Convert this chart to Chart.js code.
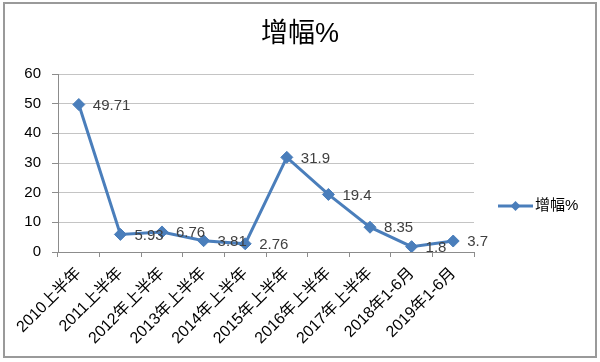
<!DOCTYPE html>
<html>
<head>
<meta charset="utf-8">
<script src="https://cdn.jsdelivr.net/npm/chart.js@4/dist/chart.umd.min.js"></script>
<style>
html,body{margin:0;padding:0;background:#fff;}
#wrap{width:600px;height:362px;position:relative;}
</style>
</head>
<body>
<div id="wrap"><canvas id="c" width="600" height="362"></canvas></div>
<script>
const chartTitle = "增幅%";
const seriesName = "增幅%";
const categories = ["2010上半年","2011上半年","2012年上半年","2013年上半年","2014年上半年","2015年上半年","2016年上半年","2017年上半年","2018年1-6月","2019年1-6月"];
const growthValues = [49.71, 5.93, 6.76, 3.81, 2.76, 31.9, 19.4, 8.35, 1.8, 3.7];
const yTicks = [0, 10, 20, 30, 40, 50, 60];

const FONT = '"Liberation Sans", "Noto Sans CJK SC", sans-serif';
const LINE_COLOR = '#4a7ebb';

const frame = {
  id: 'frame',
  beforeDraw(chart) {
    const ctx = chart.ctx;
    ctx.save();
    ctx.fillStyle = '#fff';
    ctx.fillRect(0, 0, chart.width, chart.height);
    ctx.strokeStyle = '#9a9a9a';
    ctx.lineWidth = 2;
    ctx.strokeRect(4, 3, 592, 354);
    ctx.restore();
  },
  afterDraw(chart) {
    const ctx = chart.ctx;
    ctx.save();
    ctx.font = '27px ' + FONT;
    ctx.fillStyle = '#000';
    ctx.textAlign = 'center';
    ctx.textBaseline = 'middle';
    ctx.fillText(chartTitle, chart.width / 2, 35);
    ctx.restore();
  }
};

const pointLabels = {
  id: 'pointLabels',
  afterDatasetsDraw(chart) {
    const ctx = chart.ctx;
    const meta = chart.getDatasetMeta(0);
    const data = chart.data.datasets[0].data;
    ctx.save();
    ctx.font = '15px ' + FONT;
    ctx.fillStyle = '#404040';
    ctx.textAlign = 'left';
    ctx.textBaseline = 'middle';
    meta.data.forEach((pt, i) => {
      ctx.fillText(String(data[i]), pt.x + 14, pt.y + 1);
    });
    ctx.restore();
  }
};

const sideLegend = {
  id: 'sideLegend',
  afterDraw(chart) {
    const ctx = chart.ctx;
    const ca = chart.chartArea;
    const x0 = ca.right + 24, x1 = x0 + 35, y = 206;
    ctx.save();
    ctx.strokeStyle = LINE_COLOR;
    ctx.lineWidth = 3;
    ctx.beginPath();
    ctx.moveTo(x0, y);
    ctx.lineTo(x1, y);
    ctx.stroke();
    const cx = (x0 + x1) / 2, r = 5;
    ctx.fillStyle = LINE_COLOR;
    ctx.beginPath();
    ctx.moveTo(cx, y - r); ctx.lineTo(cx + r, y); ctx.lineTo(cx, y + r); ctx.lineTo(cx - r, y);
    ctx.closePath();
    ctx.fill();
    ctx.font = '15px ' + FONT;
    ctx.fillStyle = '#000';
    ctx.textAlign = 'left';
    ctx.textBaseline = 'middle';
    ctx.fillText(seriesName, x1 + 2, y);
    ctx.restore();
  }
};

new Chart(document.getElementById('c'), {
  type: 'line',
  data: {
    labels: categories,
    datasets: [{
      label: seriesName,
      data: growthValues,
      borderColor: LINE_COLOR,
      backgroundColor: LINE_COLOR,
      borderWidth: 3,
      pointStyle: 'rectRot',
      pointRadius: 6,
      pointBackgroundColor: LINE_COLOR,
      pointBorderColor: LINE_COLOR,
      pointBorderWidth: 1,
      tension: 0,
      fill: false
    }]
  },
  options: {
    responsive: false,
    animation: false,
    devicePixelRatio: 1,
    layout: { padding: { left: 0, right: 126, top: 74, bottom: 5 } },
    plugins: {
      legend: { display: false },
      tooltip: { enabled: false },
      title: { display: false }
    },
    scales: {
      x: {
        type: 'category',
        offset: true,
        grid: { display: true, drawOnChartArea: false, drawTicks: true, tickLength: 5, color: '#8c8c8c', offset: true },
        border: { display: true, color: '#8c8c8c', width: 1 },
        ticks: {
          autoSkip: false,
          minRotation: 45,
          maxRotation: 45,
          padding: 7,
          color: '#000',
          font: { family: FONT, size: 16 }
        },
        afterFit(scale) { scale.height = 105; }
      },
      y: {
        min: 0,
        max: 60,
        afterBuildTicks(scale) { scale.ticks = yTicks.map(v => ({ value: v })); },
        grid: { color: '#c4c4c4', tickLength: 6, drawTicks: true, tickColor: '#8c8c8c' },
        border: { display: true, color: '#8c8c8c', width: 1 },
        ticks: {
          padding: 11,
          color: '#000',
          font: { family: FONT, size: 15 }
        },
        afterFit(scale) { scale.width = 58; }
      }
    }
  },
  plugins: [frame, pointLabels, sideLegend]
});
</script>
</body>
</html>
